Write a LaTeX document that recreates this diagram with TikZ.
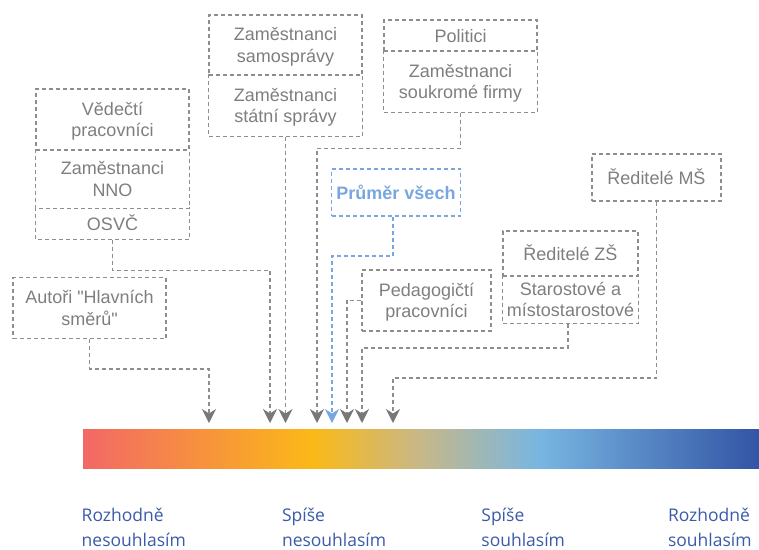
\documentclass[tikz,border=0pt]{standalone}
\usepackage{fontspec}
\setmainfont{Liberation Sans}[Ligatures=TeXOff]
\newfontfamily\scalefont{Open Sans}
\usetikzlibrary{arrows.meta}

\definecolor{linegray}{RGB}{142,142,142}
\definecolor{tipgray}{RGB}{120,120,120}
\definecolor{textgray}{RGB}{126,126,126}
\definecolor{avgblue}{RGB}{122,166,224}
\definecolor{scaleblue}{RGB}{59,91,168}
\definecolor{barred}{RGB}{242,104,102}
\definecolor{baryellow}{RGB}{251,185,23}
\definecolor{bartan}{RGB}{200,184,135}
\definecolor{barsky}{RGB}{120,182,226}
\definecolor{barnavy}{RGB}{50,84,165}

% agreement scale: the middle 50bp (25bp..75bp) span the bar
\pgfdeclarehorizontalshading{agreebar}{100bp}{%
  color(0bp)=(barred); color(25bp)=(barred); color(42bp)=(baryellow);
  color(49.85bp)=(bartan); color(58.75bp)=(barsky);
  color(75bp)=(barnavy); color(100bp)=(barnavy)}

\tikzset{
  dashline/.style={line width=1.1pt, dash pattern=on 4pt off 3pt},
  grp/.style={draw=linegray, dashline, text=textgray,
    font=\fontsize{18}{21.5}\selectfont, align=center, inner sep=0pt,
    minimum width=153pt, text depth=0pt},
  % a box stacked under another one: its top edge is the upper box's bottom
  lower/.style={grp, draw=none},
  oneline/.style={text height=13pt, text depth=0pt},
  avgbox/.style={draw=avgblue, dashline, text=avgblue,
    font=\fontsize{18}{21.5}\selectfont\bfseries, inner sep=0pt,
    minimum width=129pt, minimum height=47pt, text height=13pt, text depth=0pt},
  conn/.style={draw=linegray, dashline,
    -{Stealth[length=14pt,width=14pt,inset=4.5pt,color=tipgray]}},
  avgconn/.style={draw=avgblue, dashline,
    -{Stealth[length=14pt,width=14pt,inset=4.5pt]}},
  scalelbl/.style={text=scaleblue, font=\scalefont\fontsize{17.5}{25}\selectfont,
    align=left, inner sep=0pt, anchor=base west},
}

\begin{document}
\begin{tikzpicture}[x=1pt,y=-1pt]
\useasboundingbox (0,0) rectangle (759,549);

% groups of respondents
\node[grp, minimum height=60pt] (samo) at (285.5,45) {Zaměstnanci\\samosprávy};
\node[lower, minimum height=61pt] (statni) at (285.5,105.5) {Zaměstnanci\\státní správy};
\node[grp, minimum height=61pt] (vedecti) at (112.5,119.5) {Vědečtí\\pracovníci};
\node[lower, minimum height=58pt] (nno) at (112.5,179) {Zaměstnanci\\NNO};
\node[lower, oneline, minimum height=31pt] (osvc) at (112.5,223.5) {OSVČ};
\node[grp, minimum height=61pt] (autori) at (89.5,308) {Autoři "Hlavních\\směrů"};
\node[grp, oneline, minimum height=31pt] (politici) at (460.5,35.5) {Politici};
\node[lower, minimum height=61pt] (soukrome) at (460.5,81.5) {Zaměstnanci\\soukromé firmy};
\node[avgbox] (prumer) at (396,192.5) {Průměr všech};
\node[grp, minimum width=129pt, minimum height=61pt] (pedag) at (426.5,300.5) {Pedagogičtí\\pracovníci};
\node[grp, oneline, minimum width=135pt, minimum height=45pt] (redzs) at (570.5,253.5) {Ředitelé ZŠ};
\node[lower, minimum width=135pt, minimum height=47pt] (starost) at (570.5,299.5) {Starostové a\\místostarostové};
\node[grp, oneline, minimum width=129pt, minimum height=47pt] (redms) at (656.5,177.5) {Ředitelé MŠ};

% open-topped outlines of the stacked boxes
\foreach \b in {statni, nno, osvc, soukrome, starost}
  \draw[draw=linegray, dashline] (\b.north west) -- (\b.south west)
    -- (\b.south east) -- (\b.north east);

% the agreement scale
\node[shading=agreebar, inner sep=0pt, outer sep=0pt, minimum width=676pt,
      minimum height=39pt, anchor=north west] (bar) at (83,429) {};

% arrow tips just above the scale
\coordinate (tautori) at (209,423);
\coordinate (tosvc) at (270,423);
\coordinate (tstatni) at (statni.south |- 0,423);
\coordinate (tsoukr) at (317,423);
\coordinate (tavg) at (332,423);
\coordinate (tpedag) at (347,423);
\coordinate (tstar) at (362,423);
\coordinate (tms) at (393,423);
\coordinate (pavg) at ([xshift=-3pt]prumer.south);
\coordinate (pstar) at ([xshift=-2.5pt]starost.south);

% connectors
\draw[conn] (autori.south) -- (autori.south |- 0,369) -| (tautori);
\draw[conn] (osvc.south) -- (osvc.south |- 0,270.5) -| (tosvc);
\draw[conn] (statni.south) -- (tstatni);
\draw[conn] (soukrome.south) -- (soukrome.south |- 0,148.5) -| (tsoukr);
\draw[avgconn] (pavg) -- (pavg |- 0,256) -| (tavg);
\draw[conn] (pedag.west) -| (tpedag);
\draw[conn] (pstar) -- (pstar |- 0,348) -| (tstar);
\draw[conn] (redms.south) -- (redms.south |- 0,378) -| (tms);

% scale labels
\node[scalelbl] (lbl1) at (81.5,546) {Rozhodně\\nesouhlasím};
\node[scalelbl] (lbl2) at (281.8,546) {Spíše\\nesouhlasím};
\node[scalelbl] (lbl3) at (481.2,546) {Spíše\\souhlasím};
\node[scalelbl] (lbl4) at (667.8,546) {Rozhodně\\souhlasím};
\end{tikzpicture}
\end{document}
